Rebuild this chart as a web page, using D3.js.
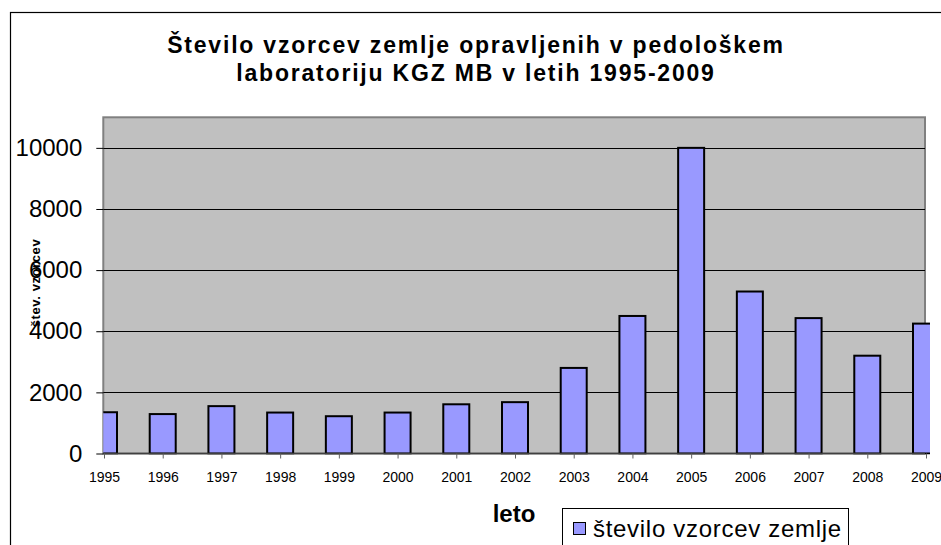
<!DOCTYPE html>
<html>
<head>
<meta charset="utf-8">
<script src="https://cdn.jsdelivr.net/npm/d3@7"></script>
<style>
  body { margin: 0; background: #fff; }
  svg { display: block; font-family: Arial, 'Liberation Sans', sans-serif; }
</style>
</head>
<body>
<svg id="chart" width="941" height="545"></svg>
<script>
// data
const years = ['1995', '1996', '1997', '1998', '1999', '2000', '2001', '2002',
               '2003', '2004', '2005', '2006', '2007', '2008', '2009'];
const samples = [1350, 1290, 1550, 1340, 1220, 1340, 1610, 1680,
                 2800, 4500, 10000, 5300, 4430, 3200, 4250];
const yTicks = [0, 2000, 4000, 6000, 8000, 10000];
const titleLines = ['Število vzorcev zemlje opravljenih v pedološkem',
                    'laboratoriju KGZ MB v letih 1995-2009'];
const seriesName = 'število vzorcev zemlje';

const svg = d3.select('#chart');

const plot = { left: 103.3, right: 925, top: 117.3, bottom: 453.5 };

const x = d3.scalePoint()
    .domain(years)
    .range([104, 926]);

const y = d3.scaleLinear()
    .domain([0, 11000])
    .range([plot.bottom, plot.top]);

// outer chart border (cropped on right and bottom)
svg.append('rect')
    .attr('x', 10.5).attr('y', 12.5)
    .attr('width', 960).attr('height', 560)
    .attr('fill', '#fff')
    .attr('stroke', '#000')
    .attr('stroke-width', 1.2);

// title
svg.append('text')
    .attr('x', 476)
    .attr('y', 53)
    .attr('text-anchor', 'middle')
    .attr('font-weight', 'bold')
    .attr('font-size', 23)
    .attr('letter-spacing', 1.8)
    .selectAll('tspan')
    .data(titleLines)
    .enter()
    .append('tspan')
    .attr('x', 476)
    .attr('dy', (d, i) => i === 0 ? 0 : 28)
    .text(d => d);

// plot area
svg.append('rect')
    .attr('x', plot.left).attr('y', plot.top)
    .attr('width', plot.right - plot.left)
    .attr('height', plot.bottom - plot.top)
    .attr('fill', '#c0c0c0')
    .attr('stroke', '#808080')
    .attr('stroke-width', 2);

// gridlines
svg.append('g')
    .selectAll('line')
    .data(yTicks.filter(d => d > 0))
    .enter()
    .append('line')
    .attr('x1', plot.left).attr('x2', plot.right)
    .attr('y1', d => Math.round(y(d)) + 0.5)
    .attr('y2', d => Math.round(y(d)) + 0.5)
    .attr('stroke', '#000')
    .attr('stroke-width', 1);

svg.append('clipPath')
    .attr('id', 'clip')
    .append('rect')
    .attr('x', plot.left).attr('y', 0)
    .attr('width', 930 - plot.left).attr('height', plot.bottom + 1);

const barW = 26;

svg.append('g')
    .attr('clip-path', 'url(#clip)')
    .selectAll('rect')
    .data(samples)
    .enter()
    .append('rect')
    .attr('x', (d, i) => x(years[i]) - barW / 2)
    .attr('y', d => y(d))
    .attr('width', barW)
    .attr('height', d => plot.bottom - y(d))
    .attr('fill', '#9999ff')
    .attr('stroke', '#000')
    .attr('stroke-width', 2);

// y axis
const yAxis = svg.append('g')
    .attr('transform', `translate(${plot.left},0)`)
    .call(d3.axisLeft(y).tickValues(yTicks).tickSize(7).tickPadding(14).tickFormat(d3.format('d')));
yAxis.select('.domain').remove();
yAxis.selectAll('.tick line').attr('stroke', '#000');
yAxis.selectAll('text')
    .attr('font-size', 24)
    .attr('font-family', "Arial, 'Liberation Sans', sans-serif")
    .attr('fill', '#000');

// x axis
const xAxis = svg.append('g')
    .attr('transform', `translate(0,${plot.bottom})`)
    .call(d3.axisBottom(x).tickSize(5).tickPadding(14));
xAxis.select('.domain')
    .attr('d', `M${plot.left},0H${plot.right}`)
    .attr('stroke', '#404040')
    .attr('stroke-width', 1.5);
xAxis.selectAll('.tick line').attr('stroke', '#606060');
xAxis.selectAll('text')
    .attr('font-size', 14)
    .attr('font-family', "Arial, 'Liberation Sans', sans-serif")
    .attr('fill', '#000');

// axis titles
svg.append('text')
    .attr('x', 514)
    .attr('y', 522)
    .attr('text-anchor', 'middle')
    .attr('font-weight', 'bold')
    .attr('font-size', 24)
    .text('leto');

svg.append('text')
    .attr('transform', 'translate(40,283) rotate(-90)')
    .attr('text-anchor', 'middle')
    .attr('font-weight', 'bold')
    .attr('font-size', 13)
    .attr('letter-spacing', 0.6)
    .text('štev. vzorcev');

// legend
const legend = svg.append('g');
legend.append('rect')
    .attr('x', 562.5).attr('y', 508.5)
    .attr('width', 286).attr('height', 60)
    .attr('fill', '#fff')
    .attr('stroke', '#000')
    .attr('stroke-width', 1);
legend.append('rect')
    .attr('x', 573.5).attr('y', 522.5)
    .attr('width', 12).attr('height', 12)
    .attr('fill', '#9999ff')
    .attr('stroke', '#000')
    .attr('stroke-width', 1);
legend.append('text')
    .attr('x', 593)
    .attr('y', 537)
    .attr('font-size', 24)
    .attr('letter-spacing', 0.7)
    .text(seriesName);
</script>
</body>
</html>
